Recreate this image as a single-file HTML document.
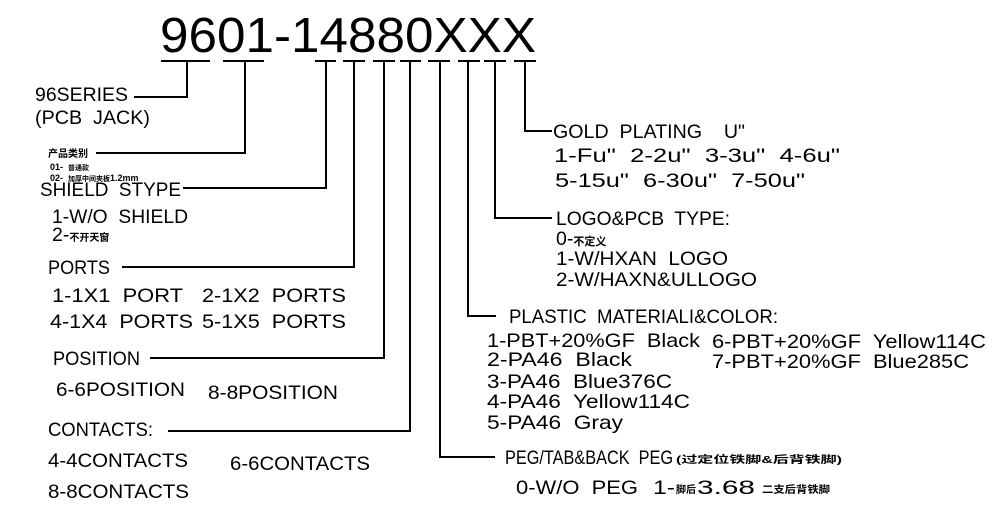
<!DOCTYPE html>
<html><head><meta charset="utf-8"><style>
html,body{margin:0;padding:0;background:#fff;}
svg{display:block}
text{font-family:"Liberation Sans","Noto Sans CJK SC",sans-serif;fill:#000;white-space:pre;}
.m{font-size:19.5px}
.c{font-size:10px;font-weight:bold}
</style></head><body>
<svg width="1000" height="515" viewBox="0 0 1000 515" xmlns="http://www.w3.org/2000/svg" xml:space="preserve">
<text x="160" y="52" style="font-size:49px" textLength="376" lengthAdjust="spacingAndGlyphs">9601-14880XXX</text>
<g stroke="#000" stroke-width="2" fill="none">
<line x1="161" y1="61" x2="210" y2="61"/>
<line x1="223" y1="61" x2="264" y2="61"/>
<line x1="315" y1="61" x2="336" y2="61"/>
<line x1="343" y1="61" x2="365" y2="61"/>
<line x1="373" y1="61" x2="395" y2="61"/>
<line x1="400" y1="61" x2="421" y2="61"/>
<line x1="428" y1="61" x2="450" y2="61"/>
<line x1="458" y1="61" x2="480" y2="61"/>
<line x1="484" y1="61" x2="506" y2="61"/>
<line x1="514" y1="61" x2="536" y2="61"/>
<polyline points="187,61 187,97 134,97"/>
<polyline points="245,61 245,153 96,153"/>
<polyline points="326,61 326,188 183,188"/>
<polyline points="354,61 354,267 122,267"/>
<polyline points="384,61 384,358 150,358"/>
<polyline points="410,61 410,431 168,431"/>
<polyline points="440,61 440,457 495,457"/>
<polyline points="468,61 468,316 496,316"/>
<polyline points="495,61 495,218 552,218"/>
<polyline points="525,61 525,131 552,131"/>
</g>
<g>
<text class="m" x="35" y="101" textLength="93" lengthAdjust="spacingAndGlyphs">96SERIES</text>
<text class="m" x="35" y="124" textLength="115" lengthAdjust="spacingAndGlyphs">(PCB  JACK)</text>
<text class="c" x="48" y="157">产品类别</text>
<text style="font-size:9px;font-weight:bold" x="50" y="170">01-  <tspan font-size="7">普通款</tspan></text>
<text style="font-size:9px;font-weight:bold" x="50" y="181">02-  <tspan font-size="7">加厚中间夹板</tspan>1.2mm</text>
<text class="m" x="40" y="196" textLength="141" lengthAdjust="spacingAndGlyphs">SHIELD  STYPE</text>
<text class="m" x="52" y="223" textLength="136" lengthAdjust="spacingAndGlyphs">1-W/O  SHIELD</text>
<text class="m" x="52" y="241">2-<tspan class="c">不开天窗</tspan></text>
<text class="m" x="48" y="274" textLength="62" lengthAdjust="spacingAndGlyphs">PORTS</text>
<text class="m" x="52" y="302" textLength="131" lengthAdjust="spacingAndGlyphs">1-1X1  PORT</text>
<text class="m" x="202" y="302" textLength="144" lengthAdjust="spacingAndGlyphs">2-1X2  PORTS</text>
<text class="m" x="50" y="328" textLength="143" lengthAdjust="spacingAndGlyphs">4-1X4  PORTS</text>
<text class="m" x="202" y="328" textLength="144" lengthAdjust="spacingAndGlyphs">5-1X5  PORTS</text>
<text class="m" x="53" y="365" textLength="87" lengthAdjust="spacingAndGlyphs">POSITION</text>
<text class="m" x="56" y="396" textLength="129" lengthAdjust="spacingAndGlyphs">6-6POSITION</text>
<text class="m" x="208" y="399" textLength="130" lengthAdjust="spacingAndGlyphs">8-8POSITION</text>
<text class="m" x="48" y="436" textLength="105" lengthAdjust="spacingAndGlyphs">CONTACTS:</text>
<text class="m" x="48" y="467" textLength="140" lengthAdjust="spacingAndGlyphs">4-4CONTACTS</text>
<text class="m" x="230" y="470" textLength="140" lengthAdjust="spacingAndGlyphs">6-6CONTACTS</text>
<text class="m" x="48" y="498" textLength="141" lengthAdjust="spacingAndGlyphs">8-8CONTACTS</text>
<text class="m" x="553" y="138" textLength="192" lengthAdjust="spacingAndGlyphs">GOLD  PLATING    U"</text>
<text class="m" x="554" y="162" textLength="286" lengthAdjust="spacingAndGlyphs">1-Fu"  2-2u"  3-3u"  4-6u"</text>
<text class="m" x="555" y="187" textLength="250" lengthAdjust="spacingAndGlyphs">5-15u"  6-30u"  7-50u"</text>
<text class="m" x="556" y="225" textLength="174" lengthAdjust="spacingAndGlyphs">LOGO&amp;PCB  TYPE:</text>
<text class="m" x="556" y="245">0-<tspan style="font-size:11px;font-weight:bold">不定义</tspan></text>
<text class="m" x="556" y="265" textLength="172" lengthAdjust="spacingAndGlyphs">1-W/HXAN  LOGO</text>
<text class="m" x="556" y="286" textLength="201" lengthAdjust="spacingAndGlyphs">2-W/HAXN&amp;ULLOGO</text>
<text class="m" x="509" y="323" textLength="269" lengthAdjust="spacingAndGlyphs">PLASTIC  MATERIALI&amp;COLOR:</text>
<text class="m" x="487" y="347" textLength="213" lengthAdjust="spacingAndGlyphs">1-PBT+20%GF  Black</text>
<text class="m" x="487" y="366" textLength="145" lengthAdjust="spacingAndGlyphs">2-PA46  Black</text>
<text class="m" x="487" y="388" textLength="185" lengthAdjust="spacingAndGlyphs">3-PA46  Blue376C</text>
<text class="m" x="487" y="408" textLength="203" lengthAdjust="spacingAndGlyphs">4-PA46  Yellow114C</text>
<text class="m" x="487" y="429" textLength="136" lengthAdjust="spacingAndGlyphs">5-PA46  Gray</text>
<text class="m" x="712" y="348" textLength="274" lengthAdjust="spacingAndGlyphs">6-PBT+20%GF  Yellow114C</text>
<text class="m" x="712" y="368" textLength="257" lengthAdjust="spacingAndGlyphs">7-PBT+20%GF  Blue285C</text>
<text class="m" x="505" y="464" textLength="168" lengthAdjust="spacingAndGlyphs">PEG/TAB&amp;BACK  PEG</text>
<text class="c" x="676" y="463" textLength="166" lengthAdjust="spacingAndGlyphs">(过定位铁脚&amp;后背铁脚)</text>
<text class="m" x="516" y="494" textLength="122" lengthAdjust="spacingAndGlyphs">0-W/O  PEG</text>
<text class="m" x="653" y="494" textLength="22" lengthAdjust="spacingAndGlyphs">1-</text>
<text class="c" x="676" y="493">脚后</text>
<text class="m" x="697" y="494" textLength="58" lengthAdjust="spacingAndGlyphs">3.68</text>
<text class="c" x="762" y="493" textLength="68" lengthAdjust="spacingAndGlyphs">二支后背铁脚</text>
</g>
</svg>
</body></html>
